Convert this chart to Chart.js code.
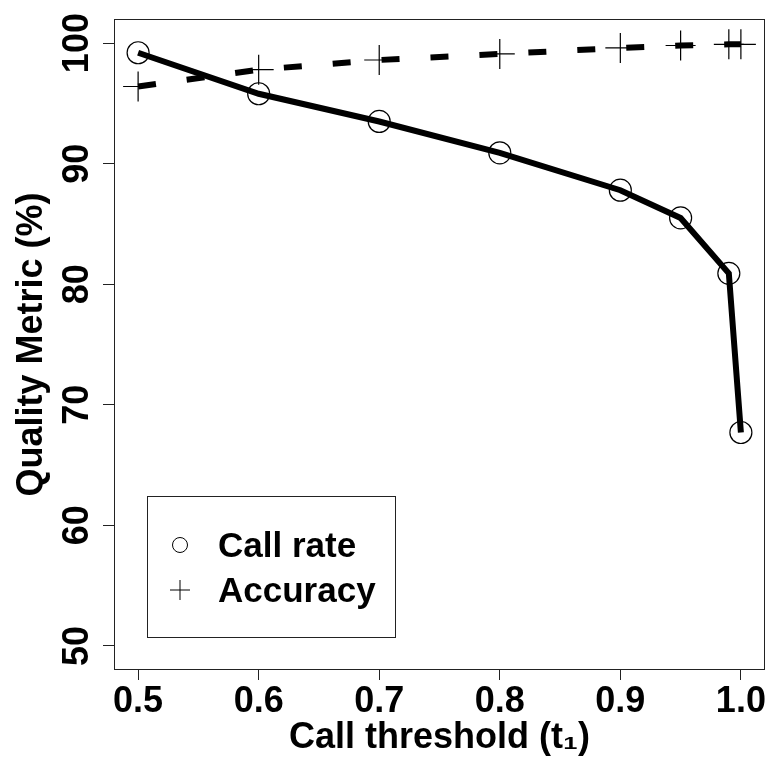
<!DOCTYPE html>
<html>
<head>
<meta charset="utf-8">
<script src="https://cdn.jsdelivr.net/npm/chart.js@4"></script>
<style>
  html, body { margin: 0; padding: 0; background: #fff; }
</style>
</head>
<body>
<canvas id="chart" width="772" height="763"></canvas>
<script>
// values
const thresholds = [0.5, 0.6, 0.7, 0.8, 0.9, 0.95, 0.99, 1.0];
const callRate = [99.2, 95.8, 93.5, 90.9, 87.8, 85.5, 80.9, 67.7];
const accuracy = [96.4, 97.8, 98.6, 99.1, 99.6, 99.8, 99.9, 99.9];
const xTicks = [0.5, 0.6, 0.7, 0.8, 0.9, 1.0];
const yTicks = [50, 60, 70, 80, 90, 100];
const seriesNames = ['Call rate', 'Accuracy'];

const FONT = '"Liberation Sans", Arial, Helvetica, sans-serif';

function toPoints(ys) {
  return thresholds.map((x, i) => ({ x: x, y: ys[i] }));
}

// R-style box around the plot region
const boxPlugin = {
  id: 'box',
  afterDatasetsDraw(chart) {
    const a = chart.chartArea, ctx = chart.ctx;
    ctx.save();
    ctx.strokeStyle = '#222';
    ctx.lineWidth = 1;
    ctx.strokeRect(a.left + 0.5, a.top + 0.5, a.right - a.left - 1, a.bottom - a.top - 1);
    ctx.restore();
  }
};

// y tick labels drawn parallel to the axis, as R does
const yLabelPlugin = {
  id: 'yLabels',
  afterDraw(chart) {
    const ctx = chart.ctx, sc = chart.scales.y;
    ctx.save();
    ctx.font = 'bold 36px ' + FONT;
    ctx.fillStyle = '#000';
    ctx.textAlign = 'center';
    ctx.textBaseline = 'alphabetic';
    sc.ticks.forEach(t => {
      ctx.save();
      ctx.translate(88, sc.getPixelForValue(t.value));
      ctx.rotate(-Math.PI / 2);
      ctx.fillText(String(t.value), 0, 0);
      ctx.restore();
    });
    ctx.restore();
  }
};

// legend box inside the plot, bottom left
const legendPlugin = {
  id: 'rLegend',
  afterDraw(chart) {
    const ctx = chart.ctx;
    const bx = 147, by = 496, bw = 248, bh = 141;
    ctx.save();
    ctx.strokeStyle = '#222';
    ctx.lineWidth = 1;
    ctx.strokeRect(bx + 0.5, by + 0.5, bw, bh);
    ctx.font = 'bold 35px ' + FONT;
    ctx.fillStyle = '#000';
    ctx.textAlign = 'left';
    ctx.textBaseline = 'middle';
    chart.data.datasets.forEach((ds, i) => {
      const cy = 545 + i * 45;
      ctx.strokeStyle = '#000';
      ctx.lineWidth = 1;
      ctx.beginPath();
      if (ds.pointStyle === 'circle') {
        ctx.arc(180, cy, 7.5, 0, Math.PI * 2);
      } else {
        ctx.moveTo(170, cy); ctx.lineTo(190, cy);
        ctx.moveTo(180, cy - 10); ctx.lineTo(180, cy + 10);
      }
      ctx.stroke();
      ctx.fillText(ds.label, 218, cy + 2);
    });
    ctx.restore();
  }
};

new Chart(document.getElementById('chart'), {
  type: 'scatter',
  data: {
    datasets: [
      {
        label: seriesNames[0],
        data: toPoints(callRate),
        showLine: true,
        borderColor: '#000',
        borderWidth: 6,
        pointStyle: 'circle',
        pointRadius: 11,
        pointBorderWidth: 1.2,
        pointBorderColor: '#000',
        pointBackgroundColor: 'rgba(0,0,0,0)'
      },
      {
        label: seriesNames[1],
        data: toPoints(accuracy),
        showLine: true,
        borderColor: '#000',
        borderWidth: 6,
        borderDash: [18, 31],
        pointStyle: 'cross',
        pointRadius: 15,
        pointBorderWidth: 1.2,
        pointBorderColor: '#000',
        pointBackgroundColor: 'rgba(0,0,0,0)'
      }
    ]
  },
  options: {
    responsive: false,
    animation: false,
    devicePixelRatio: 1,
    layout: { autoPadding: false, padding: { top: 19, right: 7, left: 0, bottom: 0 } },
    plugins: {
      legend: { display: false },
      tooltip: { enabled: false }
    },
    elements: { line: { tension: 0, borderCapStyle: 'butt' } },
    scales: {
      x: {
        type: 'linear',
        min: 0.48,
        max: 1.02,
        afterBuildTicks: s => { s.ticks = xTicks.map(v => ({ value: v })); },
        afterFit: s => { s.height = 93; s.paddingLeft = 0; s.paddingRight = 0; },
        border: { display: false },
        grid: { drawOnChartArea: false, drawTicks: true, tickLength: 10, color: '#222', lineWidth: 1 },
        ticks: {
          color: '#000',
          font: { family: FONT, size: 36, weight: 'bold' },
          padding: 0,
          maxRotation: 0,
          callback: v => v.toFixed(1)
        },
        title: {
          display: true,
          text: 'Call threshold (t\u2081)',
          color: '#000',
          font: { family: FONT, size: 36, weight: 'bold' },
          padding: { top: 0, bottom: 3 }
        }
      },
      y: {
        type: 'linear',
        min: 48,
        max: 102,
        afterBuildTicks: s => { s.ticks = yTicks.map(v => ({ value: v })); },
        afterFit: s => { s.width = 114; s.paddingTop = 0; s.paddingBottom = 0; },
        border: { display: false },
        grid: { drawOnChartArea: false, drawTicks: true, tickLength: 11, color: '#222', lineWidth: 1 },
        ticks: { display: false },
        title: {
          display: true,
          text: 'Quality Metric (%)',
          color: '#000',
          font: { family: FONT, size: 36, weight: 'bold' },
          padding: { top: 10, bottom: 0 }
        }
      }
    }
  },
  plugins: [boxPlugin, yLabelPlugin, legendPlugin]
});
</script>
</body>
</html>
